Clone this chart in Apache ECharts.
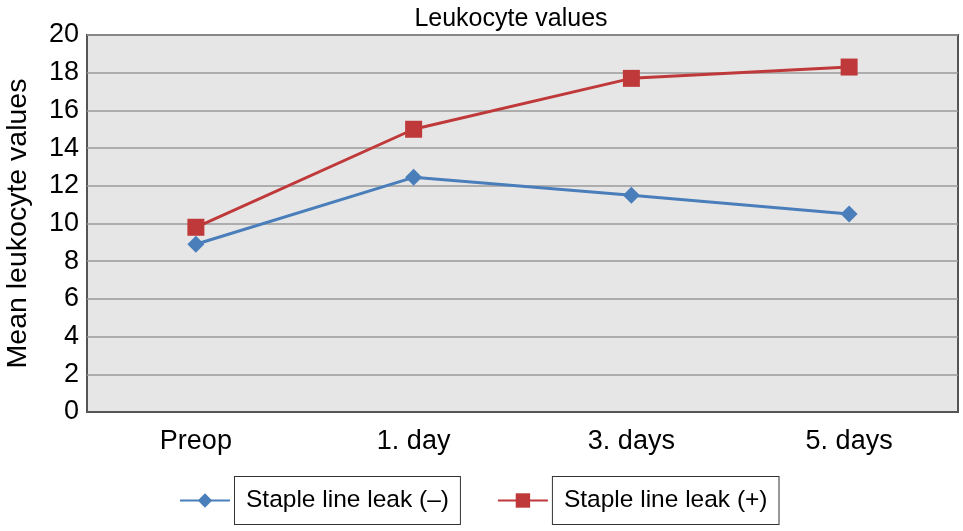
<!DOCTYPE html>
<html>
<head>
<meta charset="utf-8">
<script src="https://cdn.jsdelivr.net/npm/echarts@6/dist/echarts.min.js"></script>
<style>
html, body { margin: 0; padding: 0; background: #fff; }
#main { width: 963px; height: 531px; }
</style>
</head>
<body>
<div id="main"></div>
<script>
var categories = ['Preop', '1. day', '3. days', '5. days'];
var leakNeg = [8.9, 12.45, 11.5, 10.5];
var leakPos = [9.8, 15.0, 17.7, 18.3];
var seriesNames = ['Staple line leak (\u2013)', 'Staple line leak (+)'];

var chart = echarts.init(document.getElementById('main'));
var font = 'Liberation Sans, Arial, sans-serif';
var option = {
    animation: false,
    title: {
        text: 'Leukocyte values',
        left: 506,
        textAlign: 'center',
        top: 2,
        textStyle: {fontFamily: font, fontSize: 25, fontWeight: 'normal', color: '#000'}
    },
    legend: {
        data: seriesNames,
        bottom: 1,
        left: 174,
        itemWidth: 50,
        itemHeight: 18,
        itemGap: 36,
        textStyle: {
            fontFamily: font, fontSize: 24.5, color: '#000',
            borderColor: '#333', borderWidth: 1, padding: [11, 11, 11, 11],
            backgroundColor: '#fff'
        }
    },
    grid: {left: 87, right: 5, top: 35, bottom: 119, outerBoundsMode: 'none'},
    xAxis: {
        type: 'category',
        data: categories,
        boundaryGap: true,
        axisTick: {show: false},
        axisLine: {lineStyle: {color: '#555', width: 2}},
        axisLabel: {fontFamily: font, fontSize: 27, color: '#000', margin: 16}
    },
    yAxis: {
        type: 'value',
        min: 0, max: 20, interval: 2,
        name: 'Mean leukocyte values',
        nameLocation: 'middle',
        nameGap: 54,
        nameTextStyle: {fontFamily: font, fontSize: 28.5, color: '#000'},
        axisLine: {show: false},
        axisTick: {show: false},
        axisLabel: {fontFamily: font, fontSize: 27, color: '#000', margin: 8},
        splitLine: {lineStyle: {color: '#9a9a9a', width: 1.5}}
    },
    series: [{
        name: seriesNames[0],
        type: 'line',
        data: leakNeg,
        symbol: 'diamond',
        symbolSize: 17,
        color: '#4a7ebb',
        lineStyle: {width: 3}
    }, {
        name: seriesNames[1],
        type: 'line',
        data: leakPos,
        symbol: 'rect',
        symbolSize: 17,
        color: '#c0393a',
        lineStyle: {width: 3}
    }],
    graphic: [{
        type: 'rect',
        z: -1,
        shape: {x: 87, y: 35, width: 871, height: 377},
        style: {fill: '#e6e6e6', stroke: '#555', lineWidth: 2}
    }]
};
chart.setOption(option);
</script>
</body>
</html>
